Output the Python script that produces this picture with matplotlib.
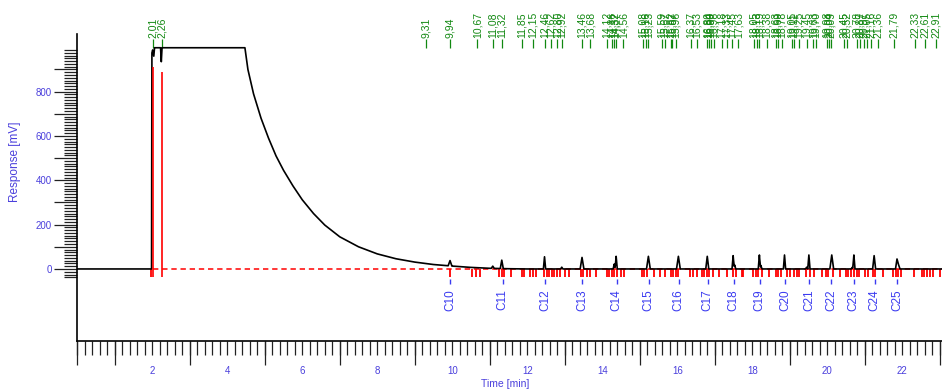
import numpy as np
import matplotlib.pyplot as plt
from matplotlib.ticker import FixedLocator, FuncFormatter

plt.rcParams['font.family'] = ['Liberation Sans', 'DejaVu Sans']

# signal: start, saturated plateau and solvent tail (min, mV)
trace_t = [0.0, 1.98, 1.99, 2.01, 2.04, 2.06, 2.22, 2.24, 2.26, 4.47, 4.55, 4.70, 4.90, 5.10,
           5.30, 5.50, 5.75, 6.00, 6.30, 6.60, 7.00, 7.50, 8.00, 8.50, 9.00, 9.50, 10.00,
           10.50, 11.00, 11.50, 12.00, 23.1]
trace_v = [0, 0, 975, 988, 960, 998, 998, 935, 998, 998, 900, 790, 680, 590,
           510, 445, 375, 312, 250, 198, 145, 100, 68, 46, 31, 20, 13,
           7, 3, 1, 0, 0]

# small peaks on the baseline
peak_rt = [9.94, 11.08, 11.32, 12.46, 12.92, 13.46, 14.32, 14.37, 15.23, 16.03, 16.80,
           17.49, 17.53, 18.19, 18.23, 18.86, 19.45, 19.51, 20.12, 20.67, 20.71, 21.25,
           21.86, 21.90]
peak_h = [24, 10, 38, 55, 8, 52, 22, 57, 57, 57, 57,
          60, 18, 63, 15, 63, 8, 63, 63, 8, 63, 60,
          45, 20]
peak_w = [0.05, 0.04, 0.04, 0.03, 0.03, 0.05, 0.03, 0.03, 0.05, 0.05, 0.04,
          0.03, 0.03, 0.03, 0.03, 0.03, 0.03, 0.03, 0.05, 0.03, 0.03, 0.04,
          0.04, 0.04]

# retention times printed at the top (green)
label_rt = [2.01, 2.26, 9.31, 9.94, 10.67, 11.08, 11.32, 11.85, 12.15, 12.46, 12.62, 12.80,
            12.92, 13.46, 13.68, 14.12, 14.26, 14.32, 14.37, 14.56, 15.08, 15.16, 15.23,
            15.59, 15.67, 15.82, 15.87, 15.96, 16.37, 16.53, 16.80, 16.84, 16.90, 16.98,
            17.18, 17.33, 17.45, 17.63, 18.05, 18.13, 18.19, 18.38, 18.63, 18.69, 18.78,
            19.05, 19.11, 19.25, 19.45, 19.63, 19.70, 19.98, 20.04, 20.09, 20.45, 20.52,
            20.78, 20.87, 20.97, 21.05, 21.16, 21.36, 21.79, 22.33, 22.61, 22.91]

# identified compounds (blue)
comp_names = ['C10', 'C11', 'C12', 'C13', 'C14', 'C15', 'C16', 'C17', 'C18', 'C19',
              'C20', 'C21', 'C22', 'C23', 'C24', 'C25']
comp_rt = [9.94, 11.34, 12.47, 13.47, 14.38, 15.24, 16.04, 16.81, 17.50, 18.20,
           18.87, 19.51, 20.11, 20.70, 21.26, 21.86]

# peak start/end marks (red)
mark_rt = [1.97, 9.94, 10.52, 10.63, 10.74, 11.25, 11.32, 11.38, 11.56, 11.85, 11.91, 12.07,
           12.14, 12.23, 12.45, 12.52, 12.59, 12.65, 12.71, 12.78, 12.87, 13.00, 13.12, 13.42,
           13.49, 13.58, 13.67, 13.83, 14.13, 14.19, 14.25, 14.31, 14.40, 14.49, 14.58, 15.05,
           15.11, 15.18, 15.38, 15.54, 15.67, 15.82, 15.89, 15.96, 16.03, 16.34, 16.41, 16.52,
           16.65, 16.71, 16.78, 16.85, 16.94, 17.12, 17.32, 17.49, 17.57, 17.72, 17.76, 18.03,
           18.10, 18.16, 18.25, 18.45, 18.63, 18.69, 18.76, 18.93, 19.01, 19.12, 19.20, 19.25,
           19.43, 19.54, 19.65, 19.85, 19.97, 20.03, 20.14, 20.34, 20.50, 20.56, 20.62, 20.71,
           20.78, 20.85, 21.00, 21.09, 21.21, 21.27, 21.48, 21.76, 21.83, 21.89, 21.96, 22.31,
           22.52, 22.58, 22.67, 22.74, 22.81, 23.00]
big_mark_rt = [2.01, 2.26]
big_mark_top = [912, 889]
baseline_t = [2.01, 23.1]

green = '#118811'
axcol = '#4a3fdc'
cblue = '#3b3bf0'

# build the drawn trace (peaks added on top of the tail)
tt = np.array(trace_t)
vv = np.array(trace_v, dtype=float)
pts = [tt]
for rt, w in zip(peak_rt, peak_w):
    pts.append(np.array([rt - w, rt, rt + w]))
t_all = np.unique(np.concatenate(pts))
v_all = np.interp(t_all, tt, vv)
for rt, h, w in zip(peak_rt, peak_h, peak_w):
    v_all += h * np.clip(1 - np.abs(t_all - rt) / w, 0, None)

fig = plt.figure(figsize=(9.42, 3.9), dpi=100)
ax = fig.add_axes([77.3 / 942, 49 / 390, (942 - 77.3) / 942, 307 / 390])

ax.plot(baseline_t, [0, 0], color='red', lw=1.1, dashes=(3.5, 2.5), zorder=2)
ax.vlines(mark_rt, -35, 0, color='red', lw=1.3, zorder=2)
ax.plot(t_all, v_all, color='black', lw=1.2, zorder=3)
ax.vlines(big_mark_rt, -36, big_mark_top, color='red', lw=1.2, zorder=4)

# green labels
ax.vlines(label_rt, 997, 1038, color=green, lw=0.9, clip_on=False)
for rt in label_rt:
    ax.text(rt, 1043, f'{rt:.2f}'.replace('.', ','), rotation=90, ha='center', va='bottom',
            color=green, fontsize=7.5, clip_on=False)

# compound labels
ax.vlines(comp_rt, -68, -45, color=cblue, lw=1)
for name, rt in zip(comp_names, comp_rt):
    ax.text(rt, -92, name, rotation=90, ha='center', va='top', color=cblue, fontsize=8.5)

ax.set_xlim(0, 23.06)
ax.set_ylim(-325, 1060)
for s in ['top', 'right']:
    ax.spines[s].set_visible(False)
for s in ['left', 'bottom']:
    ax.spines[s].set_linewidth(1.2)

# x ticks: labelled evens short, odd minutes long
ax.xaxis.set_major_locator(FixedLocator(np.arange(2, 23, 2)))
ax.xaxis.set_minor_locator(FixedLocator(np.arange(0, 23.1, 0.2)))
ax.tick_params(axis='x', which='major', length=10, width=0.9, color='#222222', pad=8,
               labelsize=7, labelcolor=axcol)
ax.tick_params(axis='x', which='minor', length=10, width=0.9, color='#222222')
sec = ax.secondary_xaxis('bottom')
sec.set_xticks([0, 1, 3, 5, 7, 9, 11, 13, 15, 17, 19, 21, 23])
sec.tick_params(length=17.5, width=0.9, color='#222222', labelbottom=False)
sec.spines['bottom'].set_visible(False)

# y ticks
ax.yaxis.set_major_locator(FixedLocator(np.arange(0, 1000, 100)))
ax.yaxis.set_minor_locator(FixedLocator(np.arange(-37.5, 1000, 12.5)))
ax.yaxis.set_major_formatter(FuncFormatter(lambda v, p: f'{int(v)}' if int(v) % 200 == 0 else ''))
ax.tick_params(axis='y', which='major', length=16.5, width=0.9, color='#222222', pad=2,
               labelsize=7, labelcolor=axcol)
ax.tick_params(axis='y', which='minor', length=9.5, width=0.9, color='#222222')

fig.text(15 / 942, 1 - 162 / 390, 'Response [mV]', rotation=90, ha='center', va='center',
         color=axcol, fontsize=8.5)
fig.text(505 / 942, 1 - 384 / 390, 'Time [min]', ha='center', va='center',
         color=axcol, fontsize=7.5)

fig.savefig('out.png', dpi=100)
